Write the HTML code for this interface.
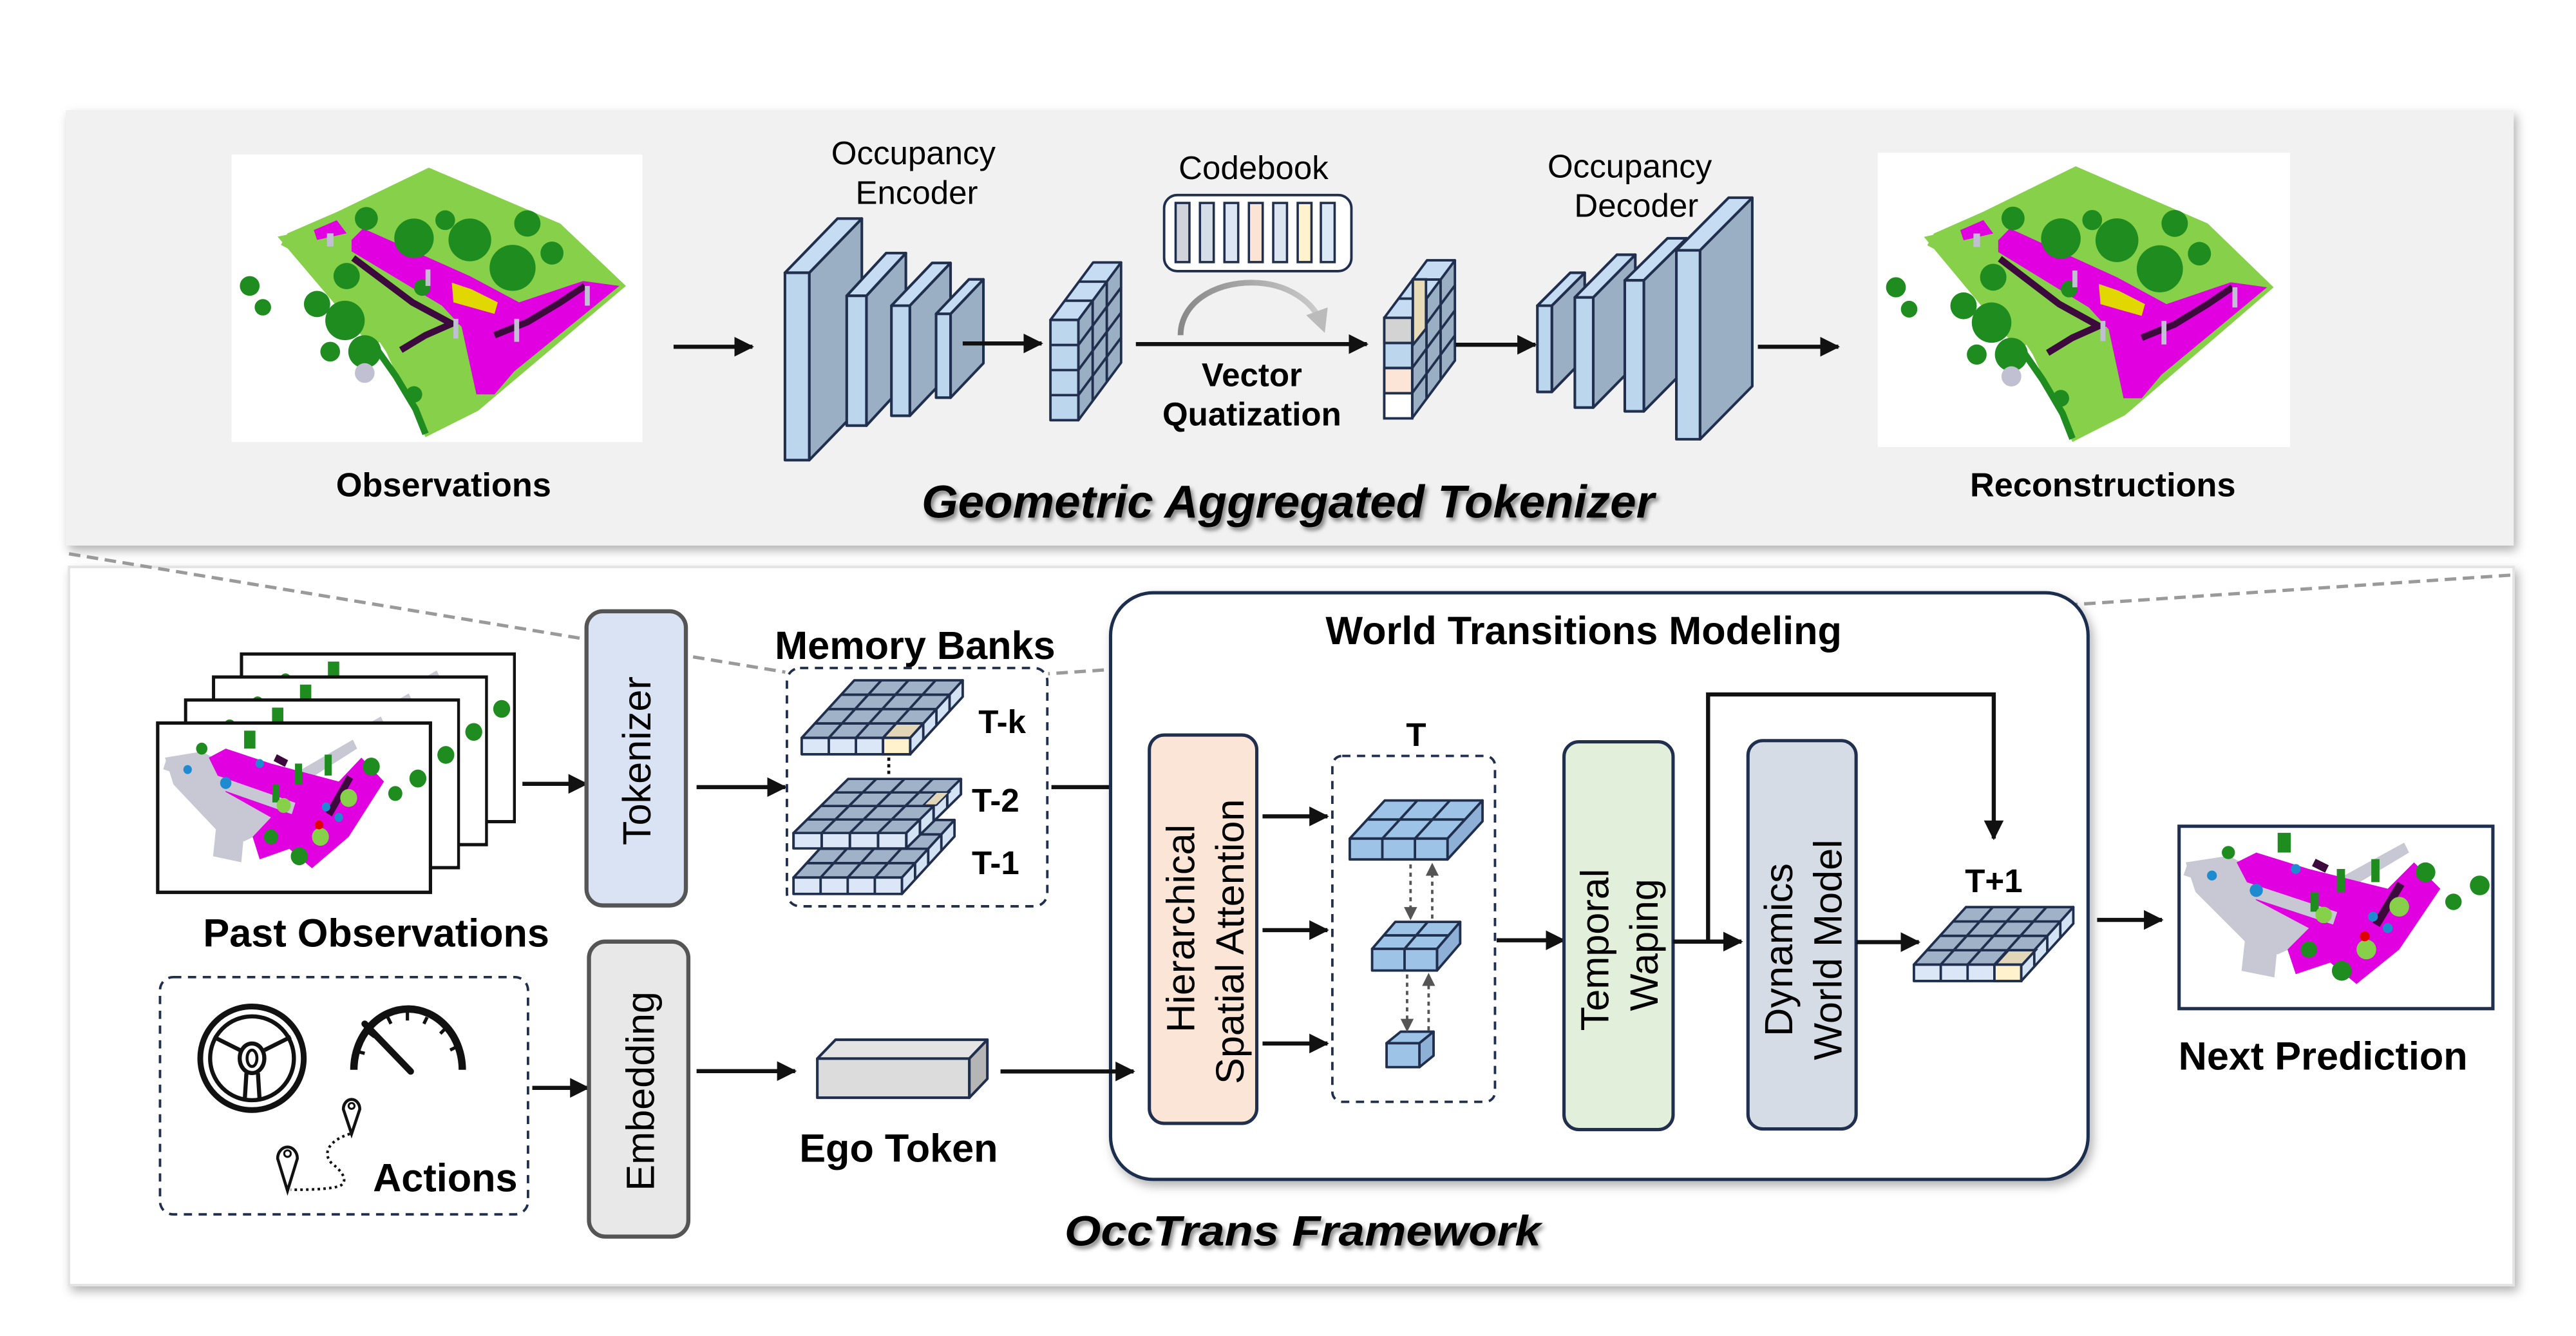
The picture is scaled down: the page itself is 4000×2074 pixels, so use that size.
<!DOCTYPE html>
<html><head><meta charset="utf-8"><style>
html,body{margin:0;padding:0;background:#fff;}
svg{display:block;}
text{font-family:"Liberation Sans",Arial,sans-serif;}
</style></head><body>
<svg xmlns="http://www.w3.org/2000/svg" width="4000" height="2074" viewBox="0 0 1568 813" preserveAspectRatio="none">
<defs>
<marker id="ar" markerUnits="userSpaceOnUse" markerWidth="12" markerHeight="12" refX="11" refY="6" orient="auto"><path d="M0,0 L12,6 L0,12 z" fill="#111"/></marker>
<marker id="ag" markerUnits="userSpaceOnUse" markerWidth="8" markerHeight="8" refX="7" refY="4" orient="auto"><path d="M0,0 L8,4 L0,8 z" fill="#555"/></marker>
<marker id="ac" markerUnits="userSpaceOnUse" markerWidth="14" markerHeight="14" refX="7" refY="7" orient="auto"><path d="M0,0 L14,7 L0,14 z" fill="#bbb"/></marker>
<linearGradient id="cg" x1="0" x2="1"><stop offset="0" stop-color="#888"/><stop offset="1" stop-color="#ccc"/></linearGradient>
<filter id="sh" x="-5%" y="-5%" width="110%" height="115%"><feDropShadow dx="2" dy="3" stdDeviation="3" flood-color="#000" flood-opacity="0.3"/></filter>
<filter id="ts" x="-5%" y="-20%" width="110%" height="150%"><feDropShadow dx="1.5" dy="2" stdDeviation="1.2" flood-color="#000" flood-opacity="0.45"/></filter>

<g id="g44" stroke="#1f2f4d" stroke-width="1.5" stroke-linejoin="round">
<polygon points="0,35 66,35 98,0 32,0" fill="#9fb2c8"/>
<polygon points="66,35 98,0 98,10 66,45" fill="#d4e3f4"/>
<rect x="0" y="35" width="66" height="10" fill="#dbe7f6"/>
<path d="M16.5,35 L48.5,0 M33,35 L65,0 M49.5,35 L81.5,0 M8,26.25 L74,26.25 M16,17.5 L82,17.5 M24,8.75 L90,8.75 M16.5,35 V45 M33,35 V45 M49.5,35 V45 M74,26.25 V36.25 M82,17.5 V27.5 M90,8.75 V18.75" fill="none"/>
</g>

<g id="vg" stroke="#1f2f4d" stroke-width="1.5" stroke-linejoin="round">
<polygon points="17,35 43,0 43,61 17,96" fill="#9aafc4"/>
<polygon points="0,35 17,35 43,0 26,0" fill="#c5dcf2"/>
<rect x="0" y="35" width="17" height="61" fill="#bcd6ee"/>
<path d="M8.7,23.3 L25.7,23.3 M17.3,11.7 L34.3,11.7 M25.7,23.3 V84.3 M34.3,11.7 V72.7 M0,50.25 H17 M0,65.5 H17 M0,80.75 H17 M17,50.25 L43,15.25 M17,65.5 L43,30.5 M17,80.75 L43,45.75" fill="none"/>
</g>

<g id="pc">
<rect x="0" y="0" width="250" height="175" fill="#fff"/>
<polygon points="64,35 120,8 200,42 240,80 150,156 118,172 94,120 62,72 30,55 34,48" fill="#86d04a"/>
<polygon points="28,50 42,47 98,112 84,116" fill="#86d04a"/>
<polygon points="73,52 80,45 145,74 175,90 214,77 236,80 172,132 160,146 149,146 140,105 128,92 73,59" fill="#e000e0"/>
<polygon points="50,46 64,40 70,48 52,52" fill="#e000e0"/>
<polyline points="74,63 110,90 134,103 118,110 103,119" fill="none" stroke="#3c0a3c" stroke-width="4"/>
<polyline points="160,110 180,102 200,90 215,80" fill="none" stroke="#3c0a3c" stroke-width="4"/>
<polygon points="134,78 146,82 162,90 160,97 135,90" fill="#e0d800"/>
<g fill="#1f8c1f">
<circle cx="111" cy="51" r="12"/><circle cx="145" cy="52" r="13"/><circle cx="171" cy="69" r="14"/><circle cx="180" cy="42" r="8"/>
<circle cx="82" cy="39" r="7"/><circle cx="70" cy="74" r="8"/><circle cx="69" cy="101" r="12"/><circle cx="81" cy="120" r="10"/>
<circle cx="52" cy="91" r="8"/><circle cx="11" cy="80" r="6"/><circle cx="19" cy="93" r="5"/><circle cx="111" cy="146" r="5"/>
<circle cx="116" cy="81" r="5"/><circle cx="130" cy="40" r="6"/><circle cx="195" cy="60" r="7"/><circle cx="60" cy="120" r="6"/>
</g>
<polyline points="88,118 100,135 112,155 118,170" fill="none" stroke="#1f8c1f" stroke-width="4"/>
<g fill="#c0c0d2"><circle cx="81" cy="133" r="6"/><rect x="118" y="70" width="3" height="10"/><rect x="135" y="100" width="3" height="12"/><rect x="172" y="100" width="3" height="14"/><rect x="215" y="80" width="3" height="12"/><rect x="58" y="48" width="4" height="8"/></g>
</g>

<g id="pc2">
<rect x="0" y="0" width="191" height="111" fill="#fff"/>
<polygon points="4,22 30,18 95,50 100,60 60,78 40,70 10,40" fill="#c8c8d4"/>
<polygon points="95,33 137,10 140,16 100,40" fill="#c8c8d4"/>
<polygon points="47,16 79,26 127,38 143,22 159,38 134,75 108,96 92,83 71,90 66,75 79,62 47,45 35,22" fill="#e000e0"/>
<polyline points="4,26 95,56" stroke="#c8c8d4" stroke-width="8" fill="none"/>
<polygon points="40,70 60,72 58,92 38,88" fill="#c8c8d4"/>
<polyline points="82,22 90,26" stroke="#3c0a3c" stroke-width="5"/>
<polyline points="120,60 135,35" stroke="#3c0a3c" stroke-width="5"/>
<g fill="#1f8c1f"><rect x="60" y="4" width="8" height="12"/><rect x="96" y="26" width="5" height="14"/><rect x="117" y="20" width="5" height="14"/><rect x="80" y="40" width="5" height="12"/>
<circle cx="150" cy="28" r="6"/><circle cx="167" cy="46" r="5"/><circle cx="183" cy="36" r="6"/><circle cx="99" cy="88" r="6"/><circle cx="79" cy="75" r="5"/><circle cx="30" cy="16" r="4"/></g>
<g fill="#86d04a"><circle cx="134" cy="49" r="6"/><circle cx="114" cy="75" r="6"/><circle cx="88" cy="54" r="5"/></g>
<g fill="#1e8ad0"><circle cx="47" cy="39" r="4"/><circle cx="71" cy="26" r="3"/><circle cx="118" cy="55" r="3"/><circle cx="127" cy="62" r="3"/><circle cx="20" cy="30" r="3"/></g>
<circle cx="113" cy="67" r="3" fill="#e00000"/>
</g>
</defs>

<rect width="1568" height="813" fill="#fff"/>

<!-- TOP PANEL -->
<rect x="40" y="67" width="1490" height="265" fill="#f1f1f1" filter="url(#sh)"/>
<use href="#pc" transform="translate(141,94)"/>
<text x="270" y="302" font-size="20.5" font-weight="bold" text-anchor="middle">Observations</text>
<line x1="410" y1="211" x2="458" y2="211" stroke="#111" stroke-width="2.5" marker-end="url(#ar)"/>

<text x="556" y="100" font-size="20" text-anchor="middle">Occupancy</text>
<text x="558" y="124" font-size="20" text-anchor="middle">Encoder</text>
<g stroke="#1f2f4d" stroke-width="1.6" stroke-linejoin="round">
<polygon points="492.6,166 524.6,133 524.6,247 492.6,280" fill="#9aafc4"/>
<polygon points="477.8,166 492.6,166 524.6,133 509.8,133" fill="#c5dcf2"/>
<rect x="477.8" y="166" width="14.8" height="114" fill="#bcd6ee"/>
<polygon points="527.4,180 551.4,154 551.4,233 527.4,259" fill="#9aafc4"/>
<polygon points="515.4,180 527.4,180 551.4,154 539.4,154" fill="#c5dcf2"/>
<rect x="515.4" y="180" width="12" height="79" fill="#bcd6ee"/>
<polygon points="553.8,186 578.6,160 578.6,227 553.8,253" fill="#9aafc4"/>
<polygon points="542.6,186 553.8,186 578.6,160 567.4,160" fill="#c5dcf2"/>
<rect x="542.6" y="186" width="11.2" height="67" fill="#bcd6ee"/>
<polygon points="578.6,191 598.6,170 598.6,221 578.6,242" fill="#9aafc4"/>
<polygon points="569.8,191 578.6,191 598.6,170 589.8,170" fill="#c5dcf2"/>
<rect x="569.8" y="191" width="8.8" height="51" fill="#bcd6ee"/>
</g>
<line x1="586" y1="209" x2="634" y2="209" stroke="#111" stroke-width="2.5" marker-end="url(#ar)"/>
<use href="#vg" transform="translate(639.4,159.7)"/>

<text x="763" y="109" font-size="20" text-anchor="middle">Codebook</text>
<rect x="708.6" y="118.7" width="114" height="46.3" rx="8" fill="#fff" stroke="#1f2f4d" stroke-width="1.5"/>
<g stroke="#1f2f4d" stroke-width="1.4">
<rect x="715.6" y="123.5" width="8.4" height="36" fill="#d0d3da"/>
<rect x="730.4" y="123.5" width="8.4" height="36" fill="#d5dde8"/>
<rect x="745.3" y="123.5" width="8.4" height="36" fill="#dbe5f3"/>
<rect x="760.2" y="123.5" width="8.4" height="36" fill="#fbe3d6"/>
<rect x="775" y="123.5" width="8.4" height="36" fill="#dce6f2"/>
<rect x="789.9" y="123.5" width="8.4" height="36" fill="#fff2cc"/>
<rect x="804" y="123.5" width="8.4" height="36" fill="#dce8f6"/>
</g>
<path d="M718.6,204 C718.6,185 738,172 761.8,172 C785,172 800,185 804,196" fill="none" stroke="url(#cg)" stroke-width="3.5" marker-end="url(#ac)"/>
<line x1="691.4" y1="209.4" x2="832" y2="209.4" stroke="#111" stroke-width="2.5" marker-end="url(#ar)"/>
<text x="762" y="235" font-size="20" font-weight="bold" text-anchor="middle">Vector</text>
<text x="762" y="259" font-size="20" font-weight="bold" text-anchor="middle">Quatization</text>
<use href="#vg" transform="translate(842.6,158.4)"/>
<g stroke="#1f2f4d" stroke-width="1.5"><rect x="842.6" y="193.4" width="17" height="15.3" fill="#d3d3d3"/><rect x="842.6" y="224" width="17" height="15.3" fill="#fce4d6"/><rect x="842.6" y="239.3" width="17" height="15.3" fill="#fff"/><polygon points="860,170 868,170 868,200 860,210" fill="#e8dcb8"/></g>
<line x1="886" y1="209.8" x2="934.6" y2="209.8" stroke="#111" stroke-width="2.5" marker-end="url(#ar)"/>

<text x="992" y="108" font-size="20" text-anchor="middle">Occupancy</text>
<text x="996" y="132" font-size="20" text-anchor="middle">Decoder</text>
<g stroke="#1f2f4d" stroke-width="1.6" stroke-linejoin="round">
<polygon points="944.6,186 964.6,166 964.6,218 944.6,238.5" fill="#9aafc4"/>
<polygon points="935.8,186 944.6,186 964.6,166 955.8,166" fill="#c5dcf2"/>
<rect x="935.8" y="186" width="8.8" height="52.5" fill="#bcd6ee"/>
<polygon points="969.8,181 995.4,155 995.4,222 969.8,248" fill="#9aafc4"/>
<polygon points="958.6,181 969.8,181 995.4,155 984.2,155" fill="#c5dcf2"/>
<rect x="958.6" y="181" width="11.2" height="67" fill="#bcd6ee"/>
<polygon points="1000.6,170.6 1026.6,145 1026.6,224 1000.6,250.3" fill="#9aafc4"/>
<polygon points="989,170.6 1000.6,170.6 1026.6,145 1015,145" fill="#c5dcf2"/>
<rect x="989" y="170.6" width="11.6" height="79.7" fill="#bcd6ee"/>
<polygon points="1034.8,152.3 1066.6,120.3 1066.6,235 1034.8,267.3" fill="#9aafc4"/>
<polygon points="1020.4,152.3 1034.8,152.3 1066.6,120.3 1052.2,120.3" fill="#c5dcf2"/>
<rect x="1020.4" y="152.3" width="14.4" height="115" fill="#bcd6ee"/>
</g>
<line x1="1070" y1="211" x2="1119" y2="211" stroke="#111" stroke-width="2.5" marker-end="url(#ar)"/>
<use href="#pc" transform="translate(1143,93) scale(1.004,1.023)"/>
<text x="1280" y="302" font-size="20.5" font-weight="bold" text-anchor="middle">Reconstructions</text>
<text x="561" y="315" font-size="28" font-weight="bold" font-style="italic" textLength="446" lengthAdjust="spacingAndGlyphs" filter="url(#ts)">Geometric Aggregated Tokenizer</text>

<!-- BOTTOM PANEL -->
<rect x="42" y="345" width="1488" height="437" fill="#fff" stroke="#e4e4e4" stroke-width="1.5" filter="url(#sh)"/>
<line x1="42" y1="337" x2="478" y2="409" stroke="#9a9a9a" stroke-width="2" stroke-dasharray="7,4"/>
<line x1="1528" y1="350" x2="638" y2="410" stroke="#9a9a9a" stroke-width="2" stroke-dasharray="7,4"/>

<!-- past observations -->
<rect x="147" y="398" width="166" height="102" fill="#fff" stroke="#111" stroke-width="2"/>
<use href="#pc2" transform="translate(148,399) scale(0.86,0.9)"/>
<rect x="130" y="412" width="166" height="102" fill="#fff" stroke="#111" stroke-width="2"/>
<use href="#pc2" transform="translate(131,413) scale(0.86,0.9)"/>
<rect x="113" y="426" width="166" height="102" fill="#fff" stroke="#111" stroke-width="2"/>
<use href="#pc2" transform="translate(114,427) scale(0.86,0.9)"/>
<rect x="96" y="440" width="166" height="103" fill="#fff" stroke="#111" stroke-width="2"/>
<use href="#pc2" transform="translate(97,441) scale(0.86,0.91)"/>
<rect x="96" y="440" width="166" height="103" fill="none" stroke="#111" stroke-width="2"/>
<text x="229" y="576" font-size="24" font-weight="bold" text-anchor="middle">Past Observations</text>
<line x1="318" y1="477" x2="357" y2="477" stroke="#111" stroke-width="2.5" marker-end="url(#ar)"/>

<rect x="357" y="372" width="60.5" height="179" rx="10" fill="#dae3f3" stroke="#555" stroke-width="2.5"/>
<text transform="translate(396,463) rotate(-90)" font-size="24" text-anchor="middle">Tokenizer</text>
<line x1="424" y1="479" x2="478" y2="479" stroke="#111" stroke-width="2.5" marker-end="url(#ar)"/>

<text x="557" y="401" font-size="24" font-weight="bold" text-anchor="middle">Memory Banks</text>
<rect x="479" y="406.5" width="158.5" height="145" rx="8" fill="none" stroke="#1f2f4d" stroke-width="1.5" stroke-dasharray="5,4"/>
<use href="#g44" transform="translate(488,414)"/>
<g stroke="#1f2f4d" stroke-width="1.5"><polygon points="49.5,35 66,35 74,26.25 57.5,26.25" transform="translate(488,414)" fill="#e2d6b8"/><rect x="537.5" y="449" width="16.5" height="10" fill="#fff2cc"/></g>
<line x1="541" y1="461" x2="541" y2="472" stroke="#111" stroke-width="1.8" stroke-dasharray="2,2"/>
<use href="#g44" transform="translate(483,499)"/>
<use href="#g44" transform="translate(483,474) scale(1.04,0.94)"/>
<polygon points="570,482 578,482 570,490 562,490" fill="#e2d6b8" stroke="#1f2f4d" stroke-width="1"/>
<text x="610" y="446" font-size="20" font-weight="bold" text-anchor="middle">T-k</text>
<text x="606" y="494" font-size="20" font-weight="bold" text-anchor="middle">T-2</text>
<text x="606" y="532" font-size="20" font-weight="bold" text-anchor="middle">T-1</text>
<line x1="640" y1="479" x2="698" y2="479" stroke="#111" stroke-width="2.5" marker-end="url(#ar)"/>

<!-- world box -->
<rect x="676" y="360.7" width="595" height="357" rx="26" fill="#fff" stroke="#1f2f4d" stroke-width="2" filter="url(#sh)"/>
<text x="964" y="392" font-size="24" font-weight="bold" text-anchor="middle">World Transitions Modeling</text>
<rect x="699.6" y="447.3" width="65.4" height="236.3" rx="9" fill="#fbe5d6" stroke="#1f2f4d" stroke-width="2"/>
<text transform="translate(727,565) rotate(-90)" font-size="24" text-anchor="middle">Hierarchical</text>
<text transform="translate(757,573) rotate(-90)" font-size="24" text-anchor="middle">Spatial Attention</text>
<line x1="768.5" y1="496.8" x2="808" y2="496.8" stroke="#111" stroke-width="2.5" marker-end="url(#ar)"/>
<line x1="768.5" y1="566" x2="808" y2="566" stroke="#111" stroke-width="2.5" marker-end="url(#ar)"/>
<line x1="768.5" y1="635" x2="808" y2="635" stroke="#111" stroke-width="2.5" marker-end="url(#ar)"/>
<rect x="811" y="460" width="99" height="210.5" rx="6" fill="none" stroke="#1f2f4d" stroke-width="1.5" stroke-dasharray="5,4"/>
<text x="862" y="454" font-size="20" font-weight="bold" text-anchor="middle">T</text>
<g stroke="#1f2f4d" stroke-width="1.5" stroke-linejoin="round">
<g transform="translate(821.6,487.1)">
<polygon points="0,23.2 59.5,23.2 80.8,0 21.3,0" fill="#9dc3e6"/>
<polygon points="59.5,23.2 80.8,0 80.8,12.7 59.5,35.9" fill="#8fb0d6"/>
<rect x="0" y="23.2" width="59.5" height="12.7" fill="#9dc3e6"/>
<path d="M19.83,23.2 L41.13,0 M39.67,23.2 L60.97,0 M10.65,11.6 L70.15,11.6 M19.83,23.2 V35.9 M39.67,23.2 V35.9" fill="none"/>
</g>
<g transform="translate(835.2,561)">
<polygon points="0,16.4 39.5,16.4 53.6,0 14.1,0" fill="#9dc3e6"/>
<polygon points="39.5,16.4 53.6,0 53.6,13.2 39.5,29.6" fill="#8fb0d6"/>
<rect x="0" y="16.4" width="39.5" height="13.2" fill="#9dc3e6"/>
<path d="M19.75,16.4 L33.85,0 M7.05,8.2 L46.55,8.2 M19.75,16.4 V29.6" fill="none"/>
</g>
<g transform="translate(844,627.8)">
<polygon points="0,7 20,7 28.6,0 8.6,0" fill="#9dc3e6"/>
<polygon points="20,7 28.6,0 28.6,14.6 20,21.6" fill="#8fb0d6"/>
<rect x="0" y="7" width="20" height="14.6" fill="#9dc3e6"/>
</g>
</g>
<g stroke="#555" stroke-width="1.5" stroke-dasharray="2.5,2.5">
<line x1="858.6" y1="526" x2="858.6" y2="559" marker-end="url(#ag)"/>
<line x1="871.8" y1="559" x2="871.8" y2="526" marker-end="url(#ag)"/>
<line x1="856.5" y1="593" x2="856.5" y2="627" marker-end="url(#ag)"/>
<line x1="869.6" y1="627" x2="869.6" y2="593" marker-end="url(#ag)"/>
</g>
<line x1="911" y1="572.2" x2="952" y2="572.2" stroke="#111" stroke-width="2.5" marker-end="url(#ar)"/>
<rect x="952" y="451.4" width="66.4" height="236" rx="9" fill="#e2efda" stroke="#1f2f4d" stroke-width="2"/>
<text transform="translate(979,578) rotate(-90)" font-size="24" text-anchor="middle">Temporal</text>
<text transform="translate(1009,575) rotate(-90)" font-size="24" text-anchor="middle">Waping</text>
<line x1="1018.4" y1="573" x2="1060" y2="573" stroke="#111" stroke-width="2.5" marker-end="url(#ar)"/>
<polyline points="1039.7,573 1039.7,422.6 1213.6,422.6 1213.6,510.3" fill="none" stroke="#111" stroke-width="2.5" marker-end="url(#ar)"/>
<rect x="1064" y="450.7" width="65.8" height="236.3" rx="9" fill="#d6dce5" stroke="#1f2f4d" stroke-width="2"/>
<text transform="translate(1091,578) rotate(-90)" font-size="24" text-anchor="middle">Dynamics</text>
<text transform="translate(1121,578) rotate(-90)" font-size="24" text-anchor="middle">World Model</text>
<line x1="1130" y1="573.3" x2="1168" y2="573.3" stroke="#111" stroke-width="2.5" marker-end="url(#ar)"/>
<text x="1213.6" y="543" font-size="20" font-weight="bold" text-anchor="middle">T+1</text>
<use href="#g44" transform="translate(1165,552) scale(0.99,1)"/>
<g stroke="#1f2f4d" stroke-width="1.5"><polygon points="49.5,35 66,35 74,26.25 57.5,26.25" transform="translate(1165,552)" fill="#e2d6b8"/><rect x="1214" y="587" width="16.3" height="10" fill="#fff2cc"/></g>
<line x1="1276.5" y1="559.8" x2="1316" y2="559.8" stroke="#111" stroke-width="2.5" marker-end="url(#ar)"/>
<rect x="1326.4" y="502.8" width="191" height="111" fill="#fff"/>
<use href="#pc2" transform="translate(1326.4,502.8)"/>
<rect x="1326.4" y="502.8" width="191" height="111" fill="none" stroke="#1f2f4d" stroke-width="2"/>
<text x="1414" y="651" font-size="24" font-weight="bold" text-anchor="middle">Next Prediction</text>

<!-- actions -->
<rect x="97.4" y="594.6" width="224" height="144.4" rx="8" fill="none" stroke="#1f2f4d" stroke-width="1.5" stroke-dasharray="5,4"/>
<g fill="none" stroke="#111">
<circle cx="153.4" cy="644" r="31.5" stroke-width="3.5"/>
<circle cx="153.4" cy="644" r="25.5" stroke-width="2.5"/>
<ellipse cx="153.4" cy="644" rx="7.5" ry="9" stroke-width="2.5"/>
<ellipse cx="153.4" cy="644" rx="3" ry="5" stroke-width="1.8"/>
<path d="M146,639 L130,631 M161,639 L177,631 M150,653 L149,669 M157,653 L158,669" stroke-width="2.5"/>
<path d="M215.4,651 A33,37 0 0 1 281.4,651" stroke-width="4.5"/>
<path d="M222,623 L250,652" stroke-width="4" stroke-linecap="round"/>
<path d="M218,640 l4,1 M224,628 l4,3 M236,619 l2,4 M248,616 v5 M260,619 l-2,4 M271,626 l-3,3 M278,637 l-4,2" stroke-width="2"/>
<path d="M214,690 L209,675 A5,6 0 1 1 219,675 Z" stroke-width="1.8" fill="#fff"/>
<circle cx="214" cy="673" r="1.8" stroke-width="1.2"/>
<path d="M175,724.6 L169,705 A6,7 0 1 1 181,705 Z" stroke-width="1.8" fill="#fff"/>
<circle cx="175" cy="702" r="2" stroke-width="1.2"/>
<path d="M213,690 C200,694 196,702 202,708 C210,714 212,720 206,722 C198,724 185,724 177,724" stroke-width="1.6" stroke-dasharray="1.5,2"/>
</g>
<text x="271" y="725" font-size="24" font-weight="bold" text-anchor="middle">Actions</text>
<line x1="324" y1="662" x2="358" y2="662" stroke="#111" stroke-width="2.5" marker-end="url(#ar)"/>
<rect x="358.5" y="573" width="60.5" height="179.5" rx="10" fill="#e8e8e8" stroke="#555" stroke-width="2.5"/>
<text transform="translate(398,664) rotate(-90)" font-size="24" text-anchor="middle">Embedding</text>
<line x1="424" y1="651.8" x2="484" y2="651.8" stroke="#111" stroke-width="2.5" marker-end="url(#ar)"/>
<g stroke="#1f2f4d" stroke-width="1.6" stroke-linejoin="round">
<polygon points="497.5,644.2 508.6,632.7 601,632.7 590,644.2" fill="#e4e4e4"/>
<polygon points="590,644.2 601,632.7 601,656.5 590,668" fill="#b5b5b5"/>
<rect x="497.5" y="644.2" width="92.5" height="23.8" fill="#dcdcdc"/>
</g>
<text x="547" y="707" font-size="24" font-weight="bold" text-anchor="middle">Ego Token</text>
<line x1="609" y1="652" x2="690" y2="652" stroke="#111" stroke-width="2.5" marker-end="url(#ar)"/>
<text x="648" y="758" font-size="26" font-weight="bold" font-style="italic" textLength="290" lengthAdjust="spacingAndGlyphs" filter="url(#ts)">OccTrans Framework</text>
</svg>
</body></html>
